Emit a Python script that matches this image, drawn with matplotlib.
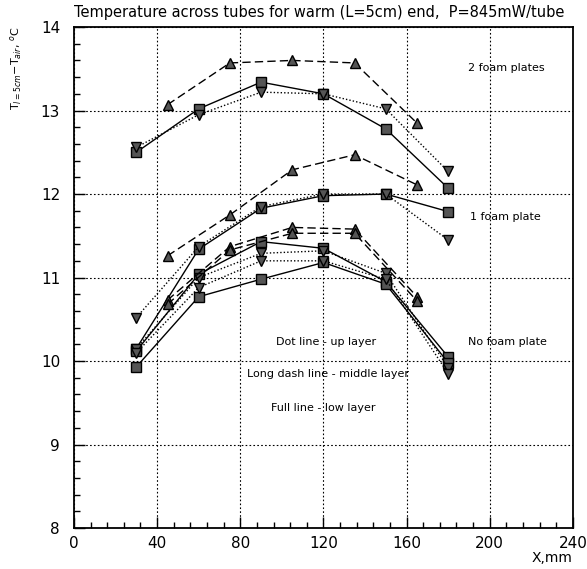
import matplotlib.pyplot as plt
from matplotlib.ticker import MultipleLocator

# x positions (mm)
x_even = [30, 60, 90, 120, 150, 180]
x_odd = [45, 75, 105, 135, 165]

# 2 foam plates
two_foam_low = [12.50, 13.02, 13.34, 13.20, 12.78, 12.07]
two_foam_up = [12.56, 12.95, 13.22, 13.20, 13.02, 12.27]
two_foam_mid = [13.07, 13.57, 13.60, 13.57, 12.85]

# 1 foam plate
one_foam_low = [10.15, 11.34, 11.83, 11.98, 12.00, 11.79]
one_foam_up = [10.52, 11.37, 11.85, 12.00, 12.00, 11.45]
one_foam_mid = [11.26, 11.75, 12.29, 12.47, 12.11]

# no foam plate (two sets)
no_foam_low_a = [10.12, 11.04, 11.43, 11.35, 10.95, 10.05]
no_foam_low_b = [9.93, 10.77, 10.98, 11.18, 10.92, 9.98]
no_foam_up_a = [10.15, 11.00, 11.29, 11.32, 11.05, 9.92]
no_foam_up_b = [10.10, 10.88, 11.20, 11.20, 10.98, 9.85]
no_foam_mid_a = [10.73, 11.37, 11.60, 11.58, 10.77]
no_foam_mid_b = [10.68, 11.33, 11.53, 11.53, 10.72]

title = "Temperature across tubes for warm (L=5cm) end,  P=845mW/tube"

fig = plt.figure(figsize=(5.87, 5.69), dpi=100)
ax = fig.add_axes([0.126, 0.072, 0.85, 0.8805])

mk = dict(markerfacecolor='#555555', markeredgecolor='black', markersize=7.5,
          markeredgewidth=1, color='black')

for ys in [two_foam_low, one_foam_low, no_foam_low_a, no_foam_low_b]:
    ax.plot(x_even, ys, '-', marker='s', lw=1, **mk)
for ys in [two_foam_up, one_foam_up, no_foam_up_a, no_foam_up_b]:
    ax.plot(x_even, ys, linestyle=(0, (1, 1.5)), marker='v', lw=1, **mk)
for ys in [two_foam_mid, one_foam_mid, no_foam_mid_a, no_foam_mid_b]:
    ax.plot(x_odd, ys, linestyle=(0, (6, 3)), marker='^', lw=1, **mk)

ax.set_xlim(0, 240)
ax.set_ylim(8, 14)
ax.xaxis.set_major_locator(MultipleLocator(40))
ax.xaxis.set_minor_locator(MultipleLocator(8))
ax.yaxis.set_major_locator(MultipleLocator(1))
ax.yaxis.set_minor_locator(MultipleLocator(0.2))
ax.tick_params(which='both', direction='in', top=False, right=False,
               labelsize=11, width=1)
ax.tick_params(which='major', length=8)
ax.tick_params(which='minor', length=4)
ax.tick_params(axis='x', pad=6)
ax.tick_params(axis='y', pad=10)
ax.grid(True, which='major', color='black', linestyle=(0, (1.5, 2)), lw=0.8)
for s in ax.spines.values():
    s.set_linewidth(1.3)

fig.text(0.126, 0.978, title, fontsize=10.5, ha='left', va='center')
fig.text(0.976, 0.02, "X,mm", fontsize=10, ha='right', va='center')
fig.text(0.027, 0.807, r'T$_{l=5cm}$$-$T$_{air}$, $^o$C', fontsize=8,
         rotation=90, ha='center', va='bottom')

tk = dict(fontsize=8, ha='left', va='center')
ax.text(189.5, 13.51, "2 foam plates", **tk)
ax.text(190.5, 11.72, "1 foam plate", **tk)
ax.text(189.5, 10.23, "No foam plate", **tk)
ax.text(97, 10.23, "Dot line - up layer", **tk)
ax.text(83, 9.84, "Long dash line - middle layer", **tk)
ax.text(95, 9.44, "Full line - low layer", **tk)

fig.savefig("out.png", dpi=100)
